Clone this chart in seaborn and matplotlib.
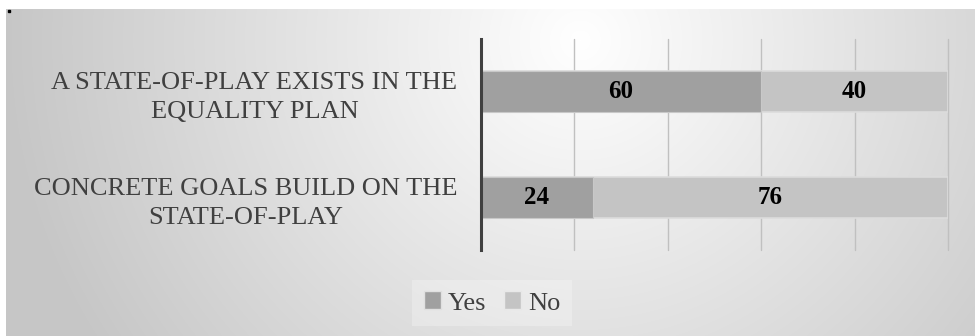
import numpy as np
import pandas as pd
import matplotlib
matplotlib.use("Agg")
import matplotlib.pyplot as plt
import seaborn as sns
from matplotlib.patches import Patch, Rectangle

categories = ["A STATE-OF-PLAY EXISTS IN THE\nEQUALITY PLAN",
              "CONCRETE GOALS BUILD ON THE\nSTATE-OF-PLAY"]
yes_vals = [60, 24]
no_vals = [40, 76]
series_names = ["Yes", "No"]
x_ticks = [0, 20, 40, 60, 80, 100]

YES_C = "#a0a0a0"
NO_C = "#c4c4c4"
TXT = "#404040"

sns.set_theme(style="white")
plt.rcParams["font.family"] = ["Liberation Serif", "DejaVu Serif"]

W, H = 975, 336
fig = plt.figure(figsize=(W / 100, H / 100), dpi=100)
fig.patch.set_facecolor("white")

# background radial gradient
bg = fig.add_axes([6 / W, 0, 1 - 6 / W, (H - 9) / H], zorder=-10)
xx, yy = np.meshgrid(np.arange(6, W), np.arange(9, H))
cx, cy = 580, 40
r = np.sqrt(((xx - cx) / 570.0) ** 2 + ((yy - cy) / 560.0) ** 2)
g = 1 - 0.22 * np.clip(r, 0, 1)
bg.imshow(np.dstack([g, g, g]), aspect="auto", interpolation="bilinear")
bg.set_axis_off()
fig.patches.append(Rectangle((8 / W, 1 - 12 / H), 2 / W, 2 / H,
                             transform=fig.transFigure, color="black"))

ax = fig.add_axes([481 / W, 86 / H, 467 / W, 211 / H])
ax.patch.set_alpha(0)

df = pd.DataFrame({"cat": categories, "Yes": yes_vals, "No": no_vals})
df["total"] = df["Yes"] + df["No"]

sns.barplot(data=df, x="total", y="cat", color=NO_C, saturation=1, width=0.385,
            edgecolor="#dcdcdc", linewidth=1.2, ax=ax, orient="h")
sns.barplot(data=df, x="Yes", y="cat", color=YES_C, saturation=1, width=0.385,
            edgecolor="#c8c8c8", linewidth=0.8, ax=ax, orient="h")

ax.set_xlim(0, 100)
ax.set_ylim(1.5, -0.5)
ax.set_xticks(x_ticks)
ax.set_xticklabels([])
ax.xaxis.grid(True, color="#c0c0c0", linewidth=1)
for gl in ax.get_xgridlines():
    gl.set_clip_on(False)
ax.set_axisbelow(True)
ax.tick_params(axis="both", length=0)
ax.tick_params(axis="y", pad=17)
for lab in ax.get_yticklabels():
    lab.set_fontsize(19)
    lab.set_color(TXT)
    lab.set_multialignment("center")
    lab.set_linespacing(1.4)
ax.set_xlabel("")
ax.set_ylabel("")
for s in ["top", "right", "bottom"]:
    ax.spines[s].set_visible(False)
ax.spines["left"].set_color("#404040")
ax.spines["left"].set_linewidth(2.2)

for i in range(len(categories)):
    ax.text(yes_vals[i] / 2, i, str(yes_vals[i]), ha="center", va="center",
            fontsize=18, fontweight="bold", color="black")
    ax.text(yes_vals[i] + no_vals[i] / 2, i, str(no_vals[i]), ha="center",
            va="center", fontsize=18, fontweight="bold", color="black")

handles = [Patch(facecolor=YES_C, edgecolor="#e0e0e0"),
           Patch(facecolor=NO_C, edgecolor="#e8e8e8")]
leg = fig.legend(handles, series_names, loc="center",
                 bbox_to_anchor=(492 / W, 1 - 303 / H), ncol=2,
                 frameon=True, fontsize=19, handlelength=0.65, handleheight=0.65,
                 handletextpad=0.25, columnspacing=0.7, borderpad=0.45)
leg.get_frame().set_facecolor("white")
leg.get_frame().set_alpha(0.25)
leg.get_frame().set_edgecolor("none")
leg.get_frame().set_boxstyle("square", pad=0)
for t in leg.get_texts():
    t.set_color(TXT)

fig.savefig("out.png", dpi=100)
